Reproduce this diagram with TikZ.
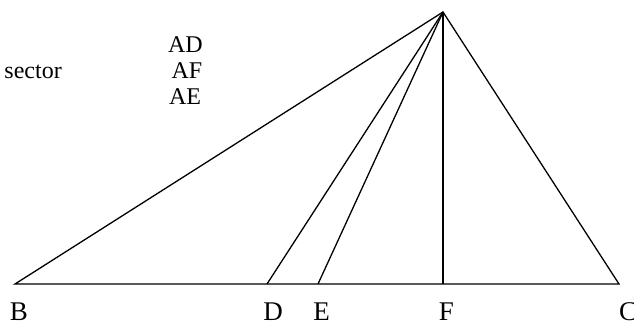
\documentclass[tikz,border=0pt]{standalone}
\usepackage{fontspec}
\setmainfont{Liberation Serif}
\usepackage{tikz}
\usetikzlibrary{arrows,arrows.meta}

\begin{document}
\begin{tikzpicture}[
x=1pt,y=-1pt,
vertex/.style={font=\fontsize{27}{27}\selectfont,anchor=base,inner sep=0pt,text depth=0pt},
seglabel/.style={font=\fontsize{24}{24}\selectfont,anchor=base,inner sep=0pt},
side/.style={line width=1.3pt,line join=miter} ]

\useasboundingbox (0,0) rectangle (634,325);

\coordinate (A) at (443,12);

\coordinate (B) at (15,284);

\coordinate (D) at (267,284);

\coordinate (E) at (318,284);

\coordinate (F) at (443,284);

\coordinate (C) at (619,284);

\draw[side] (B) -- (A) -- (C) -- cycle;

\draw[side] (A) -- (D);

\draw[side] (A) -- (E);

\draw[side] (A) -- (F);

\node[vertex](labB) at (19,320) {B};

\node[vertex](labD) at (273,320) {D};

\node[vertex](labE) at (321.5,320) {E};

\node[vertex](labF) at (446.5,320) {F};

\node[vertex,anchor=base west](labC) at (619,320) {C};

\node[seglabel](labAD) at (185.5,52) {AD};

\node[seglabel](labAF) at (187,78) {AF};

\node[seglabel](labAE) at (185,104) {AE};

\node[seglabel,anchor=base east](labsec) at (62,78) {sector};

\end{tikzpicture}
\end{document}
